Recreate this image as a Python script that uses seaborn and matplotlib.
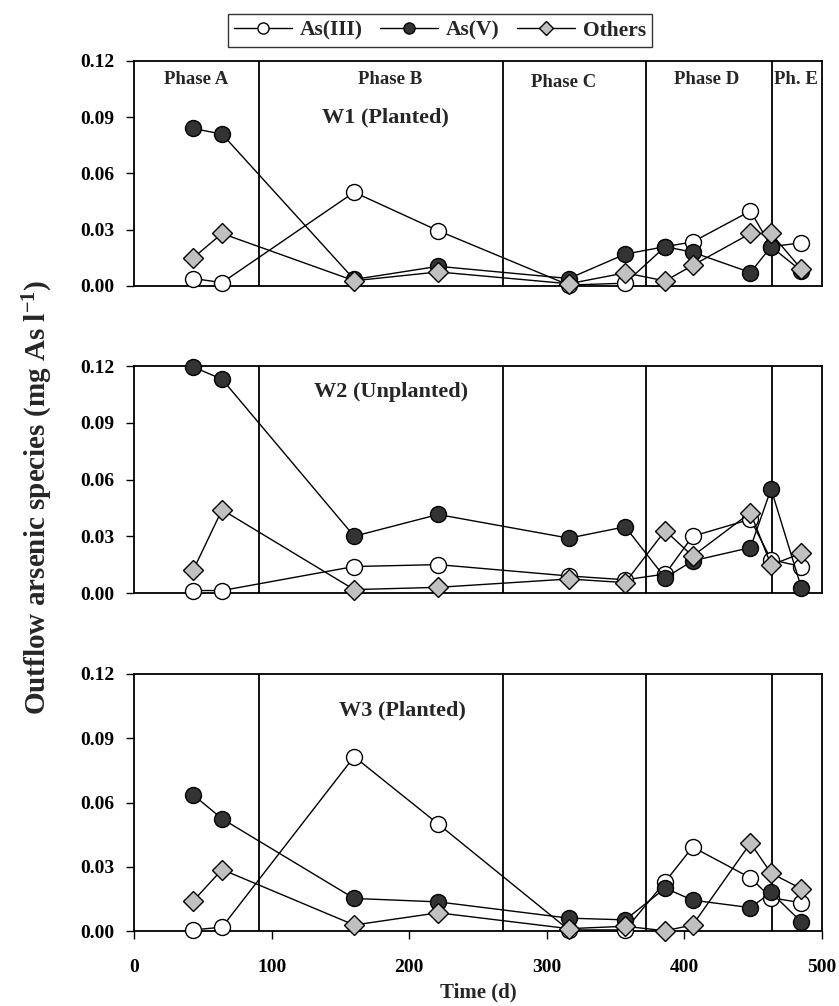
import numpy as np
import pandas as pd
import matplotlib
matplotlib.use("Agg")
import matplotlib.pyplot as plt
import seaborn as sns
from matplotlib.lines import Line2D
from matplotlib.ticker import FormatStrFormatter

# ---------------- data ----------------
days = [43, 64, 160, 221, 316, 357, 386, 406, 448, 463, 485]
species = ["As(III)", "As(V)", "Others"]
wetlands = ["W1 (Planted)", "W2 (Unplanted)", "W3 (Planted)"]

w1_as3 = [0.0040, 0.0018, 0.0500, 0.0295, 0.0005, 0.0015, 0.0210, 0.0235, 0.0400, 0.0210, 0.0230]
w1_as5 = [0.0840, 0.0810, 0.0035, 0.0105, 0.0040, 0.0170, 0.0210, 0.0180, 0.0072, 0.0210, 0.0080]
w1_oth = [0.0150, 0.0280, 0.0028, 0.0075, 0.0012, 0.0070, 0.0027, 0.0110, 0.0280, 0.0280, 0.0090]

w2_as3 = [0.0013, 0.0013, 0.0140, 0.0150, 0.0090, 0.0070, 0.0100, 0.0300, 0.0390, 0.0176, 0.0140]
w2_as5 = [0.1195, 0.1130, 0.0300, 0.0415, 0.0290, 0.0350, 0.0080, 0.0170, 0.0240, 0.0550, 0.0028]
w2_oth = [0.0120, 0.0440, 0.0018, 0.0030, 0.0074, 0.0055, 0.0330, 0.0195, 0.0425, 0.0148, 0.0210]

w3_as3 = [0.0005, 0.0018, 0.0814, 0.0500, 0.0005, 0.0005, 0.0230, 0.0392, 0.0248, 0.0155, 0.0132]
w3_as5 = [0.0636, 0.0524, 0.0152, 0.0136, 0.0060, 0.0052, 0.0200, 0.0144, 0.0109, 0.0180, 0.0042]
w3_oth = [0.0140, 0.0287, 0.0028, 0.0085, 0.0011, 0.0022, 0.0001, 0.0028, 0.0410, 0.0270, 0.0197]

phase_bounds = [91, 268, 372, 464]
phase_labels = ["Phase A", "Phase B", "Phase C", "Phase D", "Ph. E"]

series = {
    "W1 (Planted)": [w1_as3, w1_as5, w1_oth],
    "W2 (Unplanted)": [w2_as3, w2_as5, w2_oth],
    "W3 (Planted)": [w3_as3, w3_as5, w3_oth],
}
rows = []
for w in wetlands:
    for sp, vals in zip(species, series[w]):
        for d, v in zip(days, vals):
            rows.append({"wetland": w, "species": sp, "day": d, "value": v})
df = pd.DataFrame(rows)

# ---------------- style ----------------
sns.set_style("ticks")
plt.rcParams["font.family"] = ["Liberation Serif", "DejaVu Serif"]
plt.rcParams["font.weight"] = "bold"
plt.rcParams["mathtext.fontset"] = "custom"
plt.rcParams["mathtext.rm"] = "Liberation Serif:bold"
plt.rcParams["mathtext.bf"] = "Liberation Serif:bold"
plt.rcParams["mathtext.default"] = "bf"

marker_style = {
    "As(III)": dict(marker="o", markerfacecolor="white", markersize=11.5),
    "As(V)": dict(marker="o", markerfacecolor="#333333", markersize=11.5),
    "Others": dict(marker="D", markerfacecolor="#c0c0c0", markersize=10),
}

W, H = 839, 1006
fig = plt.figure(figsize=(W / 100, H / 100), dpi=100)
L, R = 134, 822
panels_px = [(61, 286), (366, 593), (674, 931)]
axes = []
for top, bot in panels_px:
    ax = fig.add_axes([L / W, 1 - bot / H, (R - L) / W, (bot - top) / H])
    axes.append(ax)

title_pos = [(183, 0.090), (187, 0.1063), (195, 0.1028)]
label_x = [45, 186, 312, 416, 481]
label_y = [0.110, 0.110, 0.1087, 0.110, 0.110]

for i, (ax, w) in enumerate(zip(axes, wetlands)):
    for b in phase_bounds:
        ax.axvline(b, color="black", lw=1.3, zorder=1)
    sub = df[df["wetland"] == w]
    for sp in species:
        s = sub[sub["species"] == sp]
        sns.lineplot(data=s, x="day", y="value", ax=ax, estimator=None, sort=False,
                     color="black", linewidth=1.0, markeredgecolor="black",
                     markeredgewidth=1.0, clip_on=False, legend=False, zorder=3,
                     **marker_style[sp])
    ax.set_xlim(0, 500)
    ax.set_ylim(0, 0.12)
    ax.set_yticks([0, 0.03, 0.06, 0.09, 0.12])
    ax.yaxis.set_major_formatter(FormatStrFormatter("%.2f"))
    ax.set_xlabel("")
    ax.set_ylabel("")
    for sp_name in ["top", "right", "bottom", "left"]:
        ax.spines[sp_name].set_linewidth(1.3)
        ax.spines[sp_name].set_color("black")
    ax.tick_params(axis="y", direction="out", length=6, width=1.0, pad=8,
                   labelsize=14, colors="black")
    tx, ty = title_pos[i]
    ax.text(tx, ty, w, ha="center", va="center", fontsize=16, fontweight="bold")
    if i == 0:
        for lx, ly, lab in zip(label_x, label_y, phase_labels):
            ax.text(lx, ly, lab, ha="center", va="center", fontsize=13.5, fontweight="bold")
    if i < 2:
        ax.set_xticks([])
    else:
        ax.set_xticks([0, 100, 200, 300, 400, 500])
        ax.tick_params(axis="x", direction="out", length=6, width=1.0, pad=14,
                       labelsize=14, colors="black")
        ax.set_xlabel("Time (d)", fontsize=15, fontweight="bold", labelpad=5)

fig.text(38 / W, 1 - 497 / H, r"Outflow arsenic species (mg As l$^{-1}$)",
         rotation=90, ha="center", va="center", fontsize=21, fontweight="bold")

handles = [Line2D([0], [0], color="black", lw=1.0, markeredgecolor="black",
                  markeredgewidth=1.0, **{**marker_style[sp],
                                          "markersize": 8 if sp != "Others" else 7})
           for sp in species]
leg = fig.legend(handles, species, loc="center", bbox_to_anchor=(440 / W, 1 - 30.5 / H),
                 ncol=3, frameon=True, fancybox=False, edgecolor="black",
                 prop={"family": "Liberation Serif", "weight": "bold", "size": 15.5},
                 handlelength=2.7, handletextpad=0.35, columnspacing=0.8,
                 borderpad=0.3, borderaxespad=0)
leg.get_frame().set_linewidth(1.0)

fig.savefig("out.png", dpi=100)
